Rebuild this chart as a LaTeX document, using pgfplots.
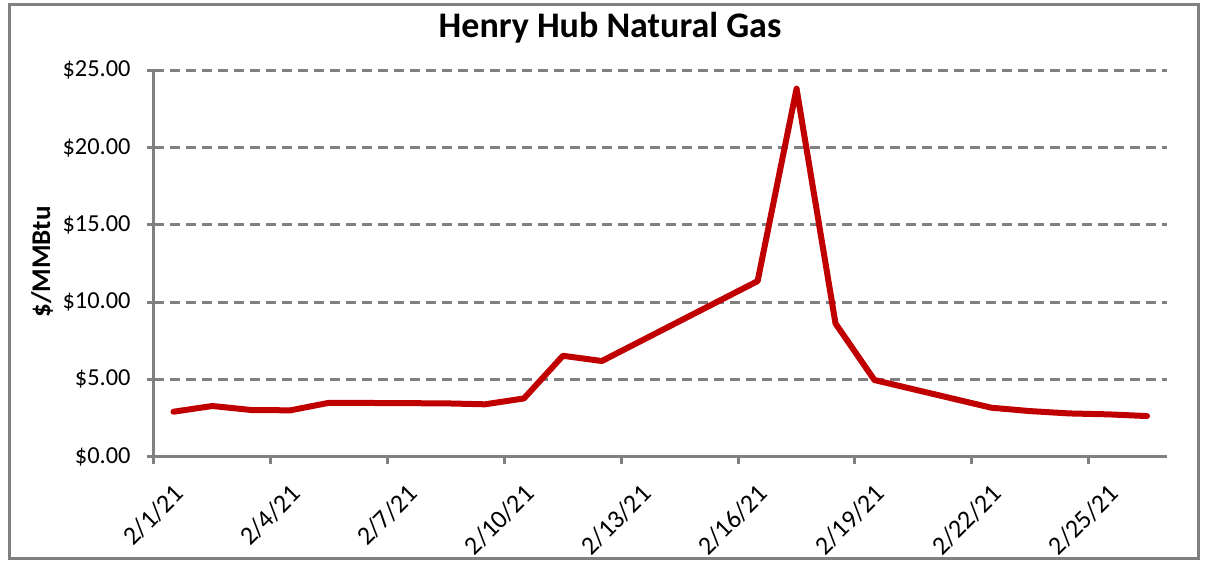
\documentclass[border=0pt]{standalone}
\usepackage{pgfplots}
\pgfplotsset{compat=1.18}
\usepackage{fontspec}
\setmainfont{Carlito}
\definecolor{gridgray}{HTML}{808080}
\definecolor{dred}{HTML}{C00000}
\begin{document}
\begin{tikzpicture}
\path[use as bounding box] (0pt,0pt) rectangle (604.5pt,281.5pt);
\draw[gridgray, line width=1.5pt] (4.5pt,2.5pt) rectangle (599pt,279pt);
\begin{axis}[
  at={(77pt,53.15pt)}, anchor=south west,
  scale only axis, width=506.25pt, height=193.2pt,
  xmin=0, xmax=26, ymin=0, ymax=25,
  axis lines=left,
  axis line style={-, gridgray, line width=1.5pt},
  xtick={0,3,6,9,12,15,18,21,24},
  xticklabels={2/1/21,2/4/21,2/7/21,2/10/21,2/13/21,2/16/21,2/19/21,2/22/21,2/25/21},
  ytick={0,5,10,15,20,25},
  yticklabels={\$0.00,\$5.00,\$10.00,\$15.00,\$20.00,\$25.00},
  tick align=outside,
  major tick length=3.5pt,
  tick style={gridgray, line width=1.5pt},
  ymajorgrids,
  major grid style={gridgray, line width=1.5pt, dash pattern=on 5pt off 3pt},
  tick label style={text=black},
  yticklabel style={font=\fontsize{12.2}{14}\selectfont, anchor=east, inner sep=0pt, xshift=-8pt},
  xticklabel style={font=\fontsize{13}{15}\selectfont, rotate=45, anchor=north east, inner sep=0pt, xshift=0pt, yshift=-13pt},
  clip=false,
]
\addplot[dred, line width=3pt, line join=round, line cap=round] coordinates {
(0.5,2.91) (1.5,3.28) (2.5,3.02) (3.5,3.00) (4.5,3.49)
(7.5,3.45) (8.5,3.39) (9.5,3.77) (10.5,6.53) (11.5,6.19)
(15.5,11.36) (16.5,23.81) (17.5,8.62) (18.5,4.96)
(21.5,3.17) (22.5,2.95) (23.5,2.80) (24.5,2.74) (25.5,2.63)
};
\end{axis}
\node[anchor=base, font=\bfseries\fontsize{18}{21}\selectfont] at (305pt,262.75pt) {Henry Hub Natural Gas};
\node[anchor=base, rotate=90, font=\bfseries\fontsize{13.5}{15}\selectfont] at (25pt,150.5pt) {\$/MMBtu};
\end{tikzpicture}
\end{document}
